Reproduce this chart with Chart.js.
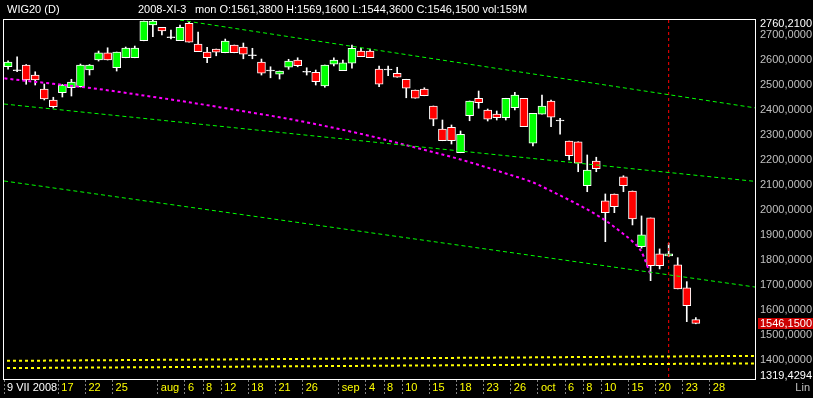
<!DOCTYPE html>
<html>
<head>
<meta charset="utf-8">
<title>WIG20 (D)</title>
<script src="https://cdn.jsdelivr.net/npm/chart.js@4.4.1/dist/chart.umd.min.js"></script>
<style>
    html, body { margin: 0; padding: 0; background: #000; }
    canvas { display: block; }
</style>
</head>
<body>
<canvas id="wykres" width="813" height="398"></canvas>
<script>
    // sesje od 9 VII 2008, indeks = numer sesji
    var opens  = [2573,2557,2580,2540,2484,2440,2469,2489,2493,2560,2600,2629,2569,2609,2609,2677,2741,2731,2689,2677,
                  2747,2664,2632,2644,2629,2660,2652,2617,2592,2556,2543,2571,2600,2551,2551,2496,2583,2557,2587,2636,
                  2636,2564,2560,2547,2523,2480,2484,2416,2324,2331,2229,2377,2447,2400,2384,2369,2409,2447,2267,2383,
                  2436,2356,2276,2273,2097,2196,2036,2064,2133,2076,1853,1968,1824,1816,1780,1688,1561.38];
    var highs  = [2597,2613,2582,2553,2504,2451,2502,2523,2584,2582,2636,2649,2632,2652,2656,2756,2760,2731,2720,2740,
                  2752,2712,2651,2644,2684,2660,2668,2647,2604,2573,2556,2603,2609,2569,2560,2580,2609,2600,2660,2647,
                  2644,2576,2576,2571,2523,2480,2489,2416,2360,2340,2316,2436,2476,2404,2396,2447,2471,2447,2387,2460,
                  2440,2367,2276,2273,2220,2211,2064,2064,2137,2076,1976,1968,1844,1867,1809,1713,1569.16];
    var lows   = [2563,2553,2503,2500,2440,2408,2452,2456,2492,2540,2596,2600,2556,2609,2609,2677,2693,2700,2684,2677,
                  2671,2633,2589,2617,2629,2629,2605,2605,2540,2529,2524,2563,2573,2540,2500,2491,2576,2557,2567,2613,
                  2609,2493,2537,2531,2449,2447,2457,2337,2277,2264,2229,2357,2407,2356,2360,2360,2400,2333,2256,2383,
                  2333,2303,2200,2153,2073,2153,1873,1989,2073,1940,1847,1717,1764,1813,1684,1553,1544.36];
    var closes = [2592,2557,2520,2520,2444,2413,2500,2512,2580,2580,2629,2600,2632,2648,2648,2756,2756,2717,2689,2731,
                  2671,2633,2609,2631,2676,2629,2623,2617,2547,2556,2556,2596,2577,2551,2513,2580,2600,2589,2647,2613,
                  2609,2503,2560,2531,2487,2447,2457,2363,2277,2277,2303,2436,2429,2363,2369,2447,2460,2333,2387,2416,
                  2371,2356,2217,2187,2160,2165,1989,2013,2097,1964,1900,1777,1777,1824,1684,1617,1546.15];

    // podpisy osi czasu
    var xTickIdx    = [0, 6, 9, 12, 17, 20, 22, 24, 27, 30, 33, 37, 40, 42, 44, 47, 50, 53, 56, 59, 62, 64, 66, 69, 72, 75, 78];
    var xTickLabels = ['9 VII 2008', '17', '22', '25', 'aug', '6', '8', '12', '18', '21', '26', 'sep', '4', '8', '10',
                       '15', '18', '23', '26', 'oct', '6', '8', '10', '15', '20', '23', '28'];

    // os cen
    var yMin = 1319.4294;
    var yMax = 2760.21;
    var yTicks = [1400, 1500, 1600, 1700, 1800, 1900, 2000, 2100, 2200, 2300, 2400, 2500, 2600, 2700];

    // krzywa (fioletowa)
    var curveIdx  = [-0.4, 0, 5, 10, 15, 20, 25, 30, 35, 40, 45, 50, 55, 58, 60, 62, 64, 66, 67, 68, 69, 70, 71];
    var curveVals = [2527, 2525, 2505, 2484, 2458, 2431, 2401, 2371, 2336, 2296, 2250, 2202, 2146, 2110, 2076, 2040, 2002,
                     1958, 1932, 1904, 1874, 1832, 1740];

    // linie trendu
    var trendTopIdx = [19, 82.65],   trendTopVals = [2760, 2408];
    var trendMidIdx = [-0.45, 82.65], trendMidVals = [2424, 2114];
    var trendLowIdx = [-0.45, 82.65], trendLowVals = [2116, 1691];

    // zolte linie na dole
    var yellowIdx = [-0.12, 82.65];
    var yellowUpper = [1396, 1416];
    var yellowLower = [1367, 1386];

    var cursorIdx = 73;

    function pts(xs, ys) {
        var out = [];
        for (var i = 0; i < xs.length; i++) out.push({ x: xs[i], y: ys[i] });
        return out;
    }
    function fmt(v) { return v.toFixed(4).replace('.', ','); }

    var bodies = [], wicks = [], bodyColors = [];
    for (var i = 0; i < opens.length; i++) {
        bodies.push({ x: i, y: [opens[i], closes[i]] });
        wicks.push({ x: i, y: [lows[i], highs[i]] });
        bodyColors.push(closes[i] > opens[i] ? '#00ff00' : (closes[i] < opens[i] ? '#ff0000' : '#ffffff'));
    }

    var FONT = '"Liberation Sans", Arial, sans-serif';
    Chart.defaults.font.family = FONT;
    Chart.defaults.font.size = 11;

    function lineSet(data, color, width, dash) {
        return {
            type: 'line', data: data, borderColor: color, borderWidth: width, borderDash: dash,
            pointRadius: 0, fill: false, order: 0
        };
    }

    var decor = {
        id: 'decor',
        beforeDraw: function (chart) {
            var c = chart.ctx;
            c.save();
            c.fillStyle = '#000';
            c.fillRect(0, 0, chart.width, chart.height);
            c.restore();
        },
        afterDraw: function (chart) {
            var c = chart.ctx, a = chart.chartArea, ys = chart.scales.y;
            c.save();
            c.strokeStyle = '#ffffff';
            c.lineWidth = 1;
            c.strokeRect(a.left - 0.5, a.top - 0.5, a.right - a.left, a.bottom - a.top);

            c.font = '11px ' + FONT;
            c.fillStyle = '#ffffff';
            c.textBaseline = 'alphabetic';
            c.textAlign = 'left';
            c.fillText('WIG20 (D)', 7, 13);
            c.fillText('2008-XI-3', 138, 13);
            c.fillText('mon O:1561,3800 H:1569,1600 L:1544,3600 C:1546,1500 vol:159M', 195, 13);

            // ostatni kurs
            var last = closes[closes.length - 1];
            var py = Math.round(ys.getPixelForValue(last));
            c.fillStyle = '#cc0000';
            c.fillRect(758, py - 5, 55, 11);
            c.fillStyle = '#ffffff';
            c.textBaseline = 'middle';
            c.fillText(fmt(last), 760, py + 1);

            c.fillStyle = '#c0c0c0';
            c.textAlign = 'right';
            c.fillText('Lin', 810, 388);
            c.restore();
        }
    };

    var ctx = document.getElementById('wykres').getContext('2d');
    var chart = new Chart(ctx, {
        type: 'bar',
        data: {
            datasets: [
                lineSet(pts(yellowIdx, yellowUpper), '#ffff00', 2, [3, 3]),
                lineSet(pts(yellowIdx, yellowLower), '#ffff00', 2, [3, 3]),
                lineSet(pts(trendTopIdx, trendTopVals), '#00ff00', 1, [4, 3]),
                lineSet(pts(trendMidIdx, trendMidVals), '#00ff00', 1, [4, 3]),
                lineSet(pts(trendLowIdx, trendLowVals), '#00ff00', 1, [4, 3]),
                lineSet(pts([cursorIdx, cursorIdx], [yMax, yMin]), '#ff0000', 1, [3, 3]),
                Object.assign(lineSet(pts(curveIdx, curveVals), '#ff00ff', 2, [3, 3]), { cubicInterpolationMode: 'monotone' }),
                {
                    label: 'knoty', data: wicks, backgroundColor: '#ffffff', borderWidth: 0,
                    barThickness: 1, grouped: false, order: 2
                },
                {
                    label: 'swiece', data: bodies, backgroundColor: bodyColors, borderColor: '#ffffff',
                    borderWidth: 1, borderSkipped: false, barThickness: 8, minBarLength: 1, grouped: false, order: 1
                }
            ]
        },
        options: {
            responsive: false,
            animation: false,
            layout: { padding: { left: 4, top: 20, right: 0, bottom: 0 } },
            plugins: { legend: { display: false }, tooltip: { enabled: false } },
            scales: {
                x: {
                    type: 'linear', min: -0.45, max: 82.65, offset: false,
                    afterBuildTicks: function (s) {
                        s.ticks = xTickIdx.map(function (i) { return { value: i - 0.45 }; });
                    },
                    afterFit: function (s) { s.height = 18; },
                    ticks: {
                        autoSkip: false, maxRotation: 0, minRotation: 0, align: 'start', labelOffset: 3, padding: -15,
                        color: function (c) { return c.index === 0 ? '#ffffff' : '#ffff00'; },
                        callback: function (v, i) { return xTickLabels[i]; }
                    },
                    grid: {
                        drawOnChartArea: false, drawTicks: true, offset: false, tickLength: 16,
                        tickColor: '#808080', tickBorderDash: [2, 2], tickWidth: 1
                    },
                    border: { display: false }
                },
                y: {
                    type: 'linear', position: 'right', min: yMin, max: yMax,
                    afterBuildTicks: function (s) {
                        var t = [{ value: yMin + 18 }];
                        yTicks.forEach(function (v) { t.push({ value: v }); });
                        t.push({ value: yMax - 16 });
                        s.ticks = t;
                    },
                    afterFit: function (s) { s.width = 57; },
                    ticks: {
                        autoSkip: false, padding: 4,
                        color: function (c) {
                            return (c.index === 0 || c.index === yTicks.length + 1) ? '#ffffff' : '#c0c0c0';
                        },
                        callback: function (v, i) {
                            if (i === 0) return fmt(yMin);
                            if (i === yTicks.length + 1) return fmt(yMax);
                            return fmt(v);
                        }
                    },
                    grid: { display: false, drawTicks: false, tickLength: 0 },
                    border: { display: false }
                }
            }
        },
        plugins: [decor]
    });
</script>
</body>
</html>
